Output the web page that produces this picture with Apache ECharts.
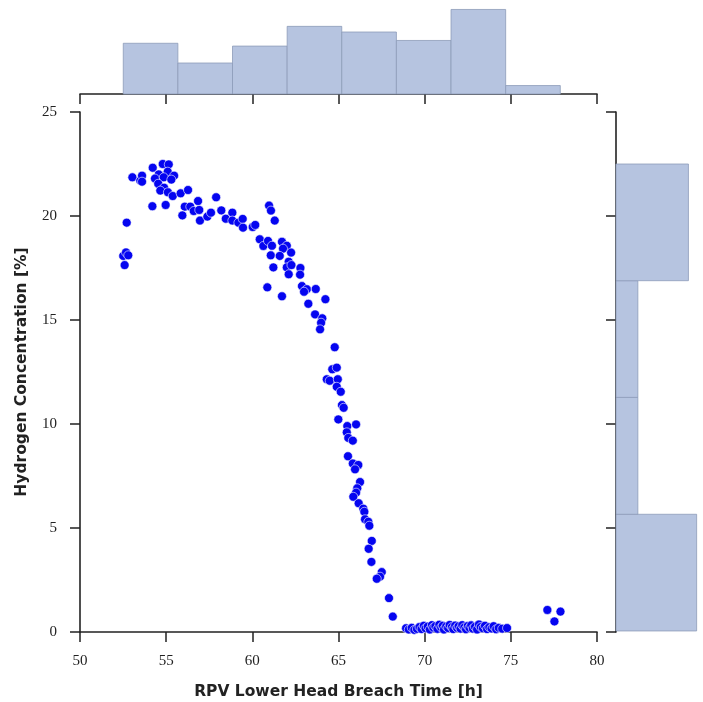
<!DOCTYPE html>
<html>
<head>
<meta charset="utf-8">
<script src="https://cdn.jsdelivr.net/npm/echarts@6/dist/echarts.min.js"></script>
<style>
  html, body { margin: 0; padding: 0; background: #fff; }
  #chart { width: 703px; height: 702px; }
</style>
</head>
<body>
<div id="chart"></div>
<script>
// scatter points: breach time [h] / hydrogen [%]
var breachTime = [
  52.51, 52.59, 52.67, 52.80, 52.71, 53.04, 53.50, 53.60, 53.60, 54.22,
  54.80, 55.15, 54.57, 54.35, 55.09, 55.46, 54.86, 55.30, 54.54, 54.88,
  54.66, 55.10, 55.38, 55.84, 56.27, 54.20, 54.97, 56.85, 56.08, 56.40,
  56.60, 56.92, 55.94, 56.96, 57.39, 57.60, 57.90, 58.20, 58.46, 58.84,
  58.84, 59.19, 59.44, 59.46, 60.02, 60.17, 60.43,
  60.97, 61.08, 61.30, 60.64, 60.91, 61.14, 61.72, 62.00, 61.78, 62.25,
  61.07, 61.59, 62.11, 62.00, 62.27, 62.79, 61.22, 62.11, 62.77, 62.88,
  63.16, 63.00, 63.68, 60.87, 61.72, 63.25, 64.24,
  63.64, 64.06, 63.99, 63.93, 64.78, 64.64, 64.90, 64.32, 64.49, 64.96,
  64.90, 65.13, 65.20, 65.30, 64.99, 65.51, 66.02,
  65.48, 65.57, 65.83, 65.55, 65.83, 66.15, 65.96, 66.25, 66.09, 66.02,
  65.86, 66.17, 66.44, 66.50, 66.54, 66.73, 66.79, 66.93, 66.75, 66.91,
  67.51, 67.41, 67.22, 67.93, 68.15,
  68.92, 69.08, 69.25, 69.40, 69.55, 69.70, 69.82, 69.95, 70.05, 70.18,
  70.30, 70.42, 70.50, 70.62, 70.74, 70.85, 70.96, 71.05, 71.12, 71.25,
  71.36, 71.45, 71.58, 71.66, 71.77, 71.88, 71.97, 72.08, 72.18, 72.30,
  72.40, 72.50, 72.60, 72.70, 72.80, 72.92, 73.04, 73.15, 73.25, 73.38,
  73.50, 73.62, 73.75, 73.88, 74.00, 74.15, 74.30, 74.50, 74.78,
  77.12, 77.88, 77.53
];
var h2Conc = [
  18.08, 17.64, 18.25, 18.11, 19.68, 21.86, 21.70, 21.94, 21.65, 22.32,
  22.50, 22.48, 22.00, 21.80, 22.13, 21.94, 21.86, 21.75, 21.55, 21.36,
  21.22, 21.14, 20.96, 21.09, 21.25, 20.47, 20.53, 20.72, 20.45, 20.45,
  20.24, 20.29, 20.03, 19.78, 19.97, 20.16, 20.90, 20.27, 19.87, 20.16,
  19.78, 19.68, 19.86, 19.44, 19.47, 19.57, 18.88,
  20.50, 20.26, 19.78, 18.56, 18.80, 18.57, 18.76, 18.57, 18.43, 18.24,
  18.11, 18.08, 17.80, 17.53, 17.64, 17.50, 17.53, 17.20, 17.18, 16.63,
  16.48, 16.36, 16.49, 16.57, 16.14, 15.78, 16.00,
  15.27, 15.08, 14.87, 14.55, 13.69, 12.63, 12.71, 12.15, 12.08, 12.15,
  11.79, 11.55, 10.91, 10.78, 10.22, 9.90, 9.98,
  9.60, 9.33, 9.20, 8.45, 8.10, 8.03, 7.82, 7.21, 6.91, 6.70,
  6.50, 6.19, 5.93, 5.78, 5.42, 5.30, 5.11, 4.38, 4.00, 3.37,
  2.88, 2.66, 2.56, 1.63, 0.74,
  0.18, 0.12, 0.20, 0.10, 0.15, 0.24, 0.14, 0.30, 0.18, 0.26,
  0.12, 0.33, 0.21, 0.28, 0.15, 0.35, 0.22, 0.30, 0.12, 0.27,
  0.19, 0.34, 0.24, 0.14, 0.31, 0.20, 0.28, 0.16, 0.33, 0.22,
  0.13, 0.29, 0.20, 0.32, 0.16, 0.25, 0.12, 0.36, 0.24, 0.18,
  0.30, 0.14, 0.23, 0.17, 0.28, 0.13, 0.20, 0.16, 0.19,
  1.06, 0.98, 0.51
];

// marginal histograms (bin edges + counts)
var timeEdges = [52.51, 55.68, 58.85, 62.02, 65.19, 68.36, 71.53, 74.70, 77.87];
var timeCounts = [18, 11, 17, 24, 22, 19, 30, 3];
var concEdges = [0.05, 5.66, 11.28, 16.89, 22.50];
var concCounts = [59, 16, 16, 53];

var xTicks = [50, 55, 60, 65, 70, 75, 80];
var yTicks = [0, 5, 10, 15, 20, 25];

var points = [];
for (var i = 0; i < breachTime.length; i++) {
  points.push([breachTime[i], h2Conc[i]]);
}
var topBins = [];
for (var i = 0; i < timeCounts.length; i++) {
  topBins.push([timeEdges[i], timeEdges[i + 1], timeCounts[i]]);
}
var rightBins = [];
for (var i = 0; i < concCounts.length; i++) {
  rightBins.push([concEdges[i], concEdges[i + 1], concCounts[i]]);
}

var histFill = '#b6c4e0';
var histEdge = '#8d9cb9';
var axisCol = '#222';
var serif = 'Liberation Serif';

var myChart = echarts.init(document.getElementById('chart'), null, { renderer: 'canvas' });

function lineAxis(extra) {
  var base = {
    axisLine: { show: true, lineStyle: { color: axisCol, width: 1.6 } },
    axisTick: { show: true, inside: false, length: 10, lineStyle: { color: axisCol, width: 1.5 } },
    splitLine: { show: false },
    axisLabel: { show: false }
  };
  for (var k in extra) base[k] = extra[k];
  return base;
}

var option = {
  animation: false,
  backgroundColor: '#fff',
  grid: [
    { left: 80, top: 112, width: 517, height: 520, containLabel: false, outerBoundsMode: 'none' },
    { left: 80, top: 1, width: 517, height: 93, containLabel: false, outerBoundsMode: 'none' },
    { left: 616, top: 112, width: 82, height: 520, containLabel: false, outerBoundsMode: 'none' }
  ],
  xAxis: [
    lineAxis({
      gridIndex: 0, type: 'value', min: xTicks[0], max: xTicks[xTicks.length - 1], interval: 5,
      axisLabel: { show: true, margin: 22, color: axisCol, fontFamily: serif, fontSize: 15 },
      name: 'RPV Lower Head Breach Time [h]', nameLocation: 'middle', nameGap: 52,
      nameTextStyle: { fontFamily: 'DejaVu Sans', fontWeight: 'bold', fontSize: 15.5, color: axisCol }
    }),
    lineAxis({ gridIndex: 1, type: 'value', min: xTicks[0], max: xTicks[xTicks.length - 1], interval: 5 }),
    { gridIndex: 2, type: 'value', min: 0, max: 60, show: false }
  ],
  yAxis: [
    lineAxis({
      gridIndex: 0, type: 'value', min: yTicks[0], max: yTicks[yTicks.length - 1], interval: 5,
      axisLabel: { show: true, margin: 23, color: axisCol, fontFamily: serif, fontSize: 15 },
      name: 'Hydrogen Concentration [%]', nameLocation: 'middle', nameGap: 50,
      nameTextStyle: { fontFamily: 'DejaVu Sans', fontWeight: 'bold', fontSize: 15.5, color: axisCol }
    }),
    { gridIndex: 1, type: 'value', min: 0, max: 33, show: false },
    lineAxis({ gridIndex: 2, type: 'value', min: yTicks[0], max: yTicks[yTicks.length - 1], interval: 5 })
  ],
  series: [
    {
      type: 'scatter',
      xAxisIndex: 0, yAxisIndex: 0,
      data: points,
      symbolSize: 9,
      itemStyle: { color: '#0505f0', borderColor: '#ffffff', borderWidth: 0.6, opacity: 1 }
    },
    {
      type: 'custom',
      xAxisIndex: 1, yAxisIndex: 1,
      data: topBins,
      encode: { x: [0, 1], y: 2 },
      renderItem: function(params, api) {
        var a = api.coord([api.value(0), api.value(2)]);
        var b = api.coord([api.value(1), 0]);
        return {
          type: 'rect',
          shape: { x: a[0], y: a[1], width: b[0] - a[0], height: b[1] - a[1] },
          style: { fill: histFill, stroke: histEdge, lineWidth: 0.8 }
        };
      }
    },
    {
      type: 'custom',
      xAxisIndex: 2, yAxisIndex: 2,
      data: rightBins,
      encode: { y: [0, 1], x: 2 },
      renderItem: function(params, api) {
        var a = api.coord([0, api.value(1)]);
        var b = api.coord([api.value(2), api.value(0)]);
        return {
          type: 'rect',
          shape: { x: a[0], y: a[1], width: b[0] - a[0], height: b[1] - a[1] },
          style: { fill: histFill, stroke: histEdge, lineWidth: 0.8 }
        };
      }
    }
  ]
};

myChart.setOption(option);
</script>
</body>
</html>
